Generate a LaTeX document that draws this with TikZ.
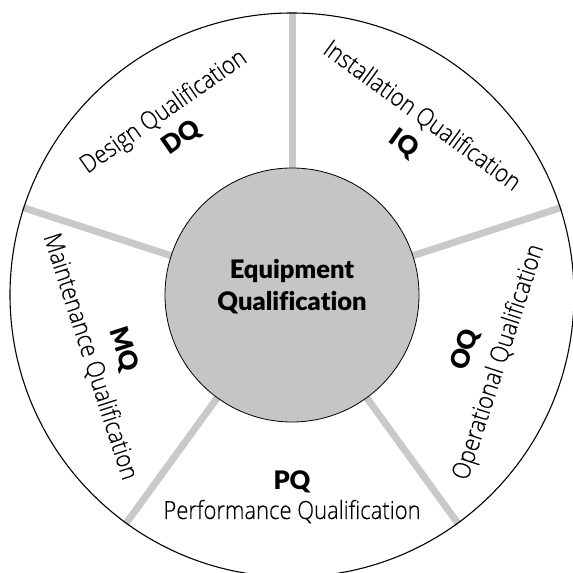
\documentclass[tikz,border=0pt]{standalone}
\usepackage{fontspec}
\IfFontExistsTF{Open Sans Light}{%
  \setmainfont{Open Sans Light}[FakeStretch=0.88, FakeBold=0.3]
  \newcommand\lblsize{\fontsize{25}{28}\selectfont}%
}{%
  \setmainfont{Fira Sans}[FakeStretch=0.85]
  \newcommand\lblsize{\fontsize{25.5}{28}\selectfont}%
}
\IfFontExistsTF{Lato Black}{%
  \newfontfamily\heavyfont{Lato Black}[Ligatures={NoCommon}]
  \newcommand\abbrsize{\fontsize{25.5}{32}\selectfont}%
}{%
  \IfFontExistsTF{Open Sans ExtraBold}{%
    \newfontfamily\heavyfont{Open Sans ExtraBold}[FakeBold=2]
    \newcommand\abbrsize{\fontsize{24}{32}\selectfont}%
  }{%
    \newfontfamily\heavyfont{Fira Sans}[UprightFeatures={FakeBold=1.8}, FakeStretch=0.95]
    \newcommand\abbrsize{\fontsize{25}{32}\selectfont}%
  }%
}
\definecolor{spokegray}{RGB}{200,201,203}
\definecolor{innergray}{RGB}{196,197,199}
\begin{document}
\begin{tikzpicture}[x=1pt,y=1pt,
  spoke/.style={line width=7pt, draw=spokegray},
  lbl/.style={font=\lblsize, inner sep=0pt},
  abbr/.style={font=\abbrsize\heavyfont, inner sep=0pt}]
\useasboundingbox (0,0) rectangle (573,573);
\clip (0,0) rectangle (573,573);
\fill[white] (0,0) rectangle (573,573);
\coordinate (c) at (292,278);
\foreach \a in {90,18,162,234,306}
  \draw[spoke] ([shift={(\a:127)}]c) -- ([shift={(\a:283)}]c);
\node[circle, draw, line width=1.1pt, minimum size=564pt, inner sep=0pt] (outer) at (c) {};
\node[circle, draw, line width=0.8pt, fill=innergray, minimum size=254pt, inner sep=0pt] (hub) at (c) {};
\node[abbr, align=center] (title) at ([yshift=8]c) {Equipment\\Qualification};
% DQ
\node[lbl, rotate=35] (dqt) at ([shift={(125:223)}]c) {Design Qualification};
\node[abbr, rotate=35] (dq) at ([shift={(125:192)}]c) {DQ};
% IQ
\node[lbl, rotate=-36] (iqt) at ([shift={(54:221)}]c) {Installation Qualification};
\node[abbr, rotate=-36] (iq) at ([shift={(53.5:188)}]c) {IQ};
% OQ
\node[lbl, rotate=72] (oqt) at ([shift={(-18:218)}]c) {Operational Qualification};
\node[abbr, rotate=72] (oq) at ([shift={(-17.5:182)}]c) {OQ};
% MQ
\node[lbl, rotate=-72] (mqt) at ([shift={(197:211)}]c) {Maintenance Qualification};
\node[abbr, rotate=-72] (mq) at ([shift={(198:177)}]c) {MQ};
% PQ
\node[lbl, anchor=base] (pqt) at ([shift={(270:224)}]c) {Performance Qualification};
\node[abbr] (pq) at ([shift={(270:187)}]c) {PQ};
\end{tikzpicture}
\end{document}
